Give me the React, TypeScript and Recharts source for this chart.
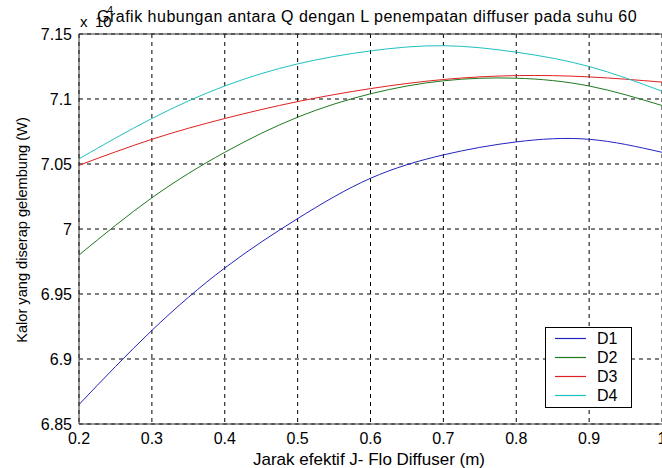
import React from 'react';
import { LineChart, Line, XAxis, YAxis, CartesianGrid, ReferenceLine } from 'recharts';

const distance = [0.2, 0.3, 0.4, 0.5, 0.6, 0.7, 0.8, 0.9, 1.0];
const d1 = [6.865, 6.922, 6.970, 7.008, 7.039, 7.057, 7.067, 7.069, 7.059];
const d2 = [6.980, 7.024, 7.059, 7.086, 7.104, 7.114, 7.116, 7.110, 7.095];
const d3 = [7.049, 7.069, 7.085, 7.098, 7.108, 7.115, 7.118, 7.117, 7.113];
const d4 = [7.054, 7.085, 7.110, 7.127, 7.137, 7.141, 7.136, 7.125, 7.106];

const xTicks = [0.2, 0.3, 0.4, 0.5, 0.6, 0.7, 0.8, 0.9, 1.0];
const yTicks = [6.85, 6.9, 6.95, 7.0, 7.05, 7.1, 7.15];

const seriesNames = ['D1', 'D2', 'D3', 'D4'];
const seriesColors = ['#2323c0', '#1e7a1e', '#e02020', '#20c0c0'];

const data = distance.map((x, i) => ({ x, D1: d1[i], D2: d2[i], D3: d3[i], D4: d4[i] }));

const FONT = '"Liberation Sans", Arial, sans-serif';

const fmt = (v: number) => String(Number(v.toFixed(2)));

const LegendBox = () => (
  <svg
    width={87}
    height={81}
    style={{ position: 'absolute', left: 545, top: 327, background: '#fff' }}
  >
    <rect x={0.5} y={0.5} width={86} height={80} fill="#fff" stroke="#000" strokeWidth={1} />
    {seriesNames.map((n, i) => {
      const y = 11.5 + i * 19;
      return (
        <g key={n}>
          <line x1={10} x2={41} y1={y} y2={y} stroke={seriesColors[i]} strokeWidth={1.2} />
          <text x={52} y={y + 5.5} fontFamily={FONT} fontSize={16} fill="#000">{n}</text>
        </g>
      );
    })}
  </svg>
);

export default function App() {
  return (
    <div style={{ position: 'absolute', left: 0, top: 0, width: 662, height: 468, background: '#fff', overflow: 'hidden' }}>
      <LineChart width={662} height={468} data={data} margin={{ top: 34, right: 0, bottom: 0, left: 0 }}>
        <CartesianGrid stroke="#000" strokeDasharray="4 4" strokeWidth={1} />
        <XAxis
          dataKey="x"
          type="number"
          domain={[0.2, 1.0]}
          ticks={xTicks}
          tickFormatter={fmt}
          height={44}
          axisLine={{ stroke: '#333' }}
          tickLine={false}
          tick={{ fill: '#000', fontSize: 16, fontFamily: FONT }}
          tickMargin={3}
          interval={0}
          allowDataOverflow
        />
        <YAxis
          type="number"
          domain={[6.85, 7.15]}
          ticks={yTicks}
          tickFormatter={fmt}
          width={79}
          axisLine={{ stroke: '#333' }}
          tickLine={false}
          tick={{ fill: '#000', fontSize: 16, fontFamily: FONT }}
          tickMargin={1}
          interval={0}
          allowDataOverflow
        />
        <ReferenceLine y={7.15} stroke="#333" strokeWidth={1} />
        {seriesNames.map((n, i) => (
          <Line
            key={n}
            dataKey={n}
            type="natural"
            stroke={seriesColors[i]}
            strokeWidth={1}
            dot={false}
            isAnimationActive={false}
          />
        ))}
      </LineChart>
      <LegendBox />
      <div style={{ position: 'absolute', left: 80, top: 13, fontFamily: FONT, fontSize: 15, color: '#000', whiteSpace: 'nowrap' }}>
        x
      </div>
      <div style={{ position: 'absolute', left: 95, top: 13, fontFamily: FONT, fontSize: 15, color: '#000', whiteSpace: 'nowrap' }}>
        10
      </div>
      <div style={{ position: 'absolute', left: 107, top: 4, fontFamily: FONT, fontSize: 11, color: '#000', whiteSpace: 'nowrap' }}>
        4
      </div>
      <div style={{ position: 'absolute', left: 367, top: 8, transform: 'translateX(-50%)', fontFamily: FONT, fontSize: 16, letterSpacing: 0.5, color: '#000', whiteSpace: 'nowrap' }}>
        Grafik hubungan antara Q dengan L penempatan diffuser pada suhu 60
      </div>
      <div style={{ position: 'absolute', left: 369, top: 450, transform: 'translateX(-50%)', fontFamily: FONT, fontSize: 17, color: '#000', whiteSpace: 'nowrap' }}>
        Jarak efektif J- Flo Diffuser (m)
      </div>
      <div style={{ position: 'absolute', left: 22, top: 230, transform: 'translate(-50%, -50%) rotate(-90deg)', fontFamily: FONT, fontSize: 14.6, color: '#000', whiteSpace: 'nowrap' }}>
        Kalor yang diserap gelembung (W)
      </div>
    </div>
  );
}
